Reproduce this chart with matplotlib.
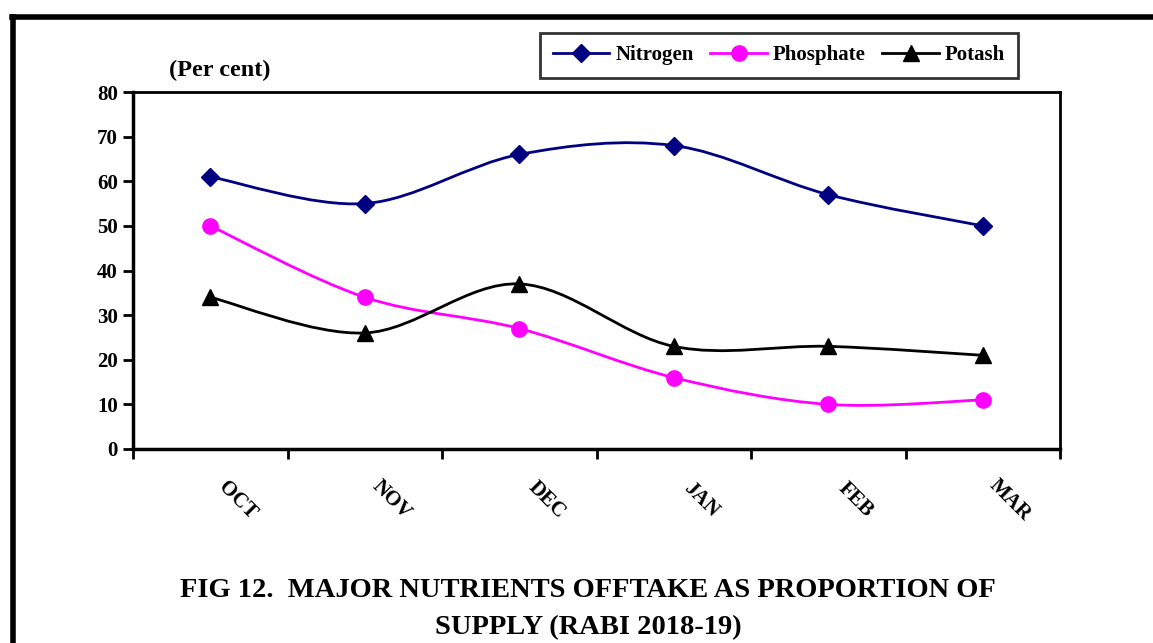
import matplotlib.pyplot as plt
from matplotlib.path import Path
from matplotlib.patches import PathPatch
from matplotlib.lines import Line2D
import numpy as np

plt.rcParams['font.family'] = ['Liberation Serif', 'DejaVu Serif']
plt.rcParams['font.weight'] = 'bold'

months = ["OCT", "NOV", "DEC", "JAN", "FEB", "MAR"]
nitrogen = [61, 55, 66, 68, 57, 50]
phosphate = [50, 34, 27, 16, 10, 11]
potash = [34, 26, 37, 23, 23, 21]

series = [
    ("Nitrogen", nitrogen, "#000080", "D", 9.5),
    ("Phosphate", phosphate, "#FF00FF", "o", 11),
    ("Potash", potash, "#000000", "^", 11),
]


def smooth_path(x, y, k=1.0 / 6):
    # excel-like smoothed line as cubic bezier segments
    pts = np.column_stack([x, y]).astype(float)
    n = len(pts)
    verts = [pts[0]]
    codes = [Path.MOVETO]
    for i in range(n - 1):
        p0 = pts[i - 1] if i > 0 else pts[i]
        p1 = pts[i]
        p2 = pts[i + 1]
        p3 = pts[i + 2] if i + 2 < n else pts[i + 1]
        c1 = p1 + (p2 - p0) * k
        c2 = p2 - (p3 - p1) * k
        verts += [c1, c2, p2]
        codes += [Path.CURVE4] * 3
    return Path(verts, codes)


fig = plt.figure(figsize=(11.53, 6.43), dpi=100)
ax = fig.add_axes([133 / 1153, 1 - 449 / 643, 927 / 1153, 357 / 643])

xs = np.arange(len(months))
handles = []
for name, vals, col, mk, ms in series:
    patch = PathPatch(smooth_path(xs, vals), facecolor="none", edgecolor=col, lw=2, zorder=2)
    ax.add_patch(patch)
    ax.plot(xs, vals, linestyle="none", marker=mk, color=col, markersize=ms, zorder=3)
    handles.append(Line2D([], [], color=col, lw=2, marker=mk, markersize=ms))

ax.set_xlim(-0.5, len(months) - 0.5)
ax.set_ylim(0, 80)
ax.set_yticks(range(0, 81, 10))
ax.set_xticks(np.arange(-0.5, len(months), 1.0))
ax.set_xticklabels([])
ax.tick_params(axis="x", direction="out", length=7, width=2)
ax.tick_params(axis="y", direction="out", length=7, width=2, labelsize=15, pad=4)
for lab in ax.get_yticklabels():
    lab.set_fontweight("bold")
for side in ["left", "bottom"]:
    ax.spines[side].set_linewidth(2.5)
for side in ["top", "right"]:
    ax.spines[side].set_linewidth(2)

# rotated month labels, offset down-right of each category
for i, m in enumerate(months):
    ax.annotate(m, xy=(i, 0), xycoords=("data", "axes fraction"),
                xytext=(27 * 0.72, -51 * 0.72), textcoords="offset points",
                rotation=-45, ha="center", va="center", rotation_mode="anchor",
                fontsize=15, fontweight="bold")

fig.text(220 / 1153, 1 - 70 / 643, "(Per cent)", ha="center", va="center",
         fontsize=17.5, fontweight="bold")

leg = fig.legend(handles, [s[0] for s in series], loc="center",
                 bbox_to_anchor=(779 / 1153, 1 - 55 / 643), ncol=3,
                 frameon=True, fancybox=False, edgecolor="black",
                 prop={"weight": "bold", "size": 15}, handlelength=2.7,
                 columnspacing=0.8, handletextpad=0.3, borderpad=0.6,
                 borderaxespad=0)
leg.get_frame().set_linewidth(2)

fig.text(588 / 1153, 1 - 609 / 643,
         "FIG 12.  MAJOR NUTRIENTS OFFTAKE AS PROPORTION OF\nSUPPLY (RABI 2018-19)",
         ha="center", va="center", fontsize=20.5, fontweight="bold", linespacing=1.6)

# outer frame: top and left edges
fig.add_artist(Line2D([12 / 1153, 1], [1 - 17 / 643, 1 - 17 / 643], color="black", lw=4,
                      transform=fig.transFigure))
fig.add_artist(Line2D([13 / 1153, 13 / 1153], [0, 1 - 17 / 643], color="black", lw=4,
                      transform=fig.transFigure))

fig.savefig("out.png", dpi=100)
